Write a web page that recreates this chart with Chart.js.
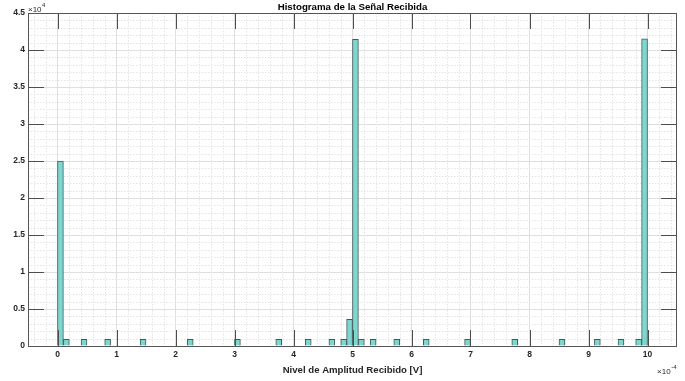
<!DOCTYPE html>
<html>
<head>
<meta charset="utf-8">
<script src="https://cdn.jsdelivr.net/npm/chart.js@4/dist/chart.umd.min.js"></script>
<style>
  html, body { margin: 0; padding: 0; background: #ffffff; }
  #wrap { width: 685px; height: 381px; position: relative; }
</style>
</head>
<body>
<div id="wrap"><canvas id="c" width="685" height="381"></canvas></div>
<script>
// ---- data (x in units of 1e-4 V, counts) ----
const chartTitle = "Histograma de la Señal Recibida";
const xLabel = "Nivel de Amplitud Recibido [V]";
const binCenters = [0.05, 0.15, 0.45, 0.85, 1.45, 2.25, 3.05, 3.75, 4.25, 4.65, 4.85, 4.95,
                    5.05, 5.15, 5.35, 5.75, 6.25, 6.95, 7.75, 8.55, 9.15, 9.55, 9.85, 9.95];
const counts = [25000, 900, 900, 900, 900, 900, 900, 900, 900, 900, 900, 3600,
                41450, 900, 900, 900, 900, 900, 900, 900, 900, 900, 900, 41500];
const xTickValues = [0, 1, 2, 3, 4, 5, 6, 7, 8, 9, 10];
const yTickValues = [0, 5000, 10000, 15000, 20000, 25000, 30000, 35000, 40000, 45000];
const xExponent = "-4";
const yExponent = "4";

const FONT = "'Liberation Sans', Arial, sans-serif";
const TICK_SIZE = 8.5;

const matlabAxes = {
  id: 'matlabAxes',
  beforeDatasetsDraw(chart) {
    const {ctx, chartArea: a, scales: {x, y}} = chart;
    ctx.save();
    ctx.strokeStyle = '#e4e4e4';
    ctx.lineWidth = 1;
    ctx.setLineDash([1.5, 1.5]);
    ctx.beginPath();
    for (let i = -2; i <= 52; i++) {
      if (i % 5 === 0) continue;
      const px = Math.round(x.getPixelForValue(i * 0.2)) + 0.5;
      if (px <= a.left || px >= a.right) continue;
      ctx.moveTo(px, a.top); ctx.lineTo(px, a.bottom);
    }
    for (let j = 1; j < 45; j++) {
      if (j % 5 === 0) continue;
      const py = Math.round(y.getPixelForValue(j * 1000)) + 0.5;
      ctx.moveTo(a.left, py); ctx.lineTo(a.right, py);
    }
    ctx.stroke();
    ctx.restore();
  },
  afterDraw(chart) {
    const {ctx, chartArea: a, scales: {x, y}} = chart;
    const TL = 16;
    ctx.save();
    ctx.strokeStyle = '#4d4d4d';
    ctx.lineWidth = 1;
    ctx.beginPath();
    xTickValues.forEach(v => {
      const px = Math.round(x.getPixelForValue(v)) + 0.5;
      ctx.moveTo(px, a.bottom); ctx.lineTo(px, a.bottom - TL);
      ctx.moveTo(px, a.top); ctx.lineTo(px, a.top + TL);
    });
    yTickValues.forEach(v => {
      const py = Math.round(y.getPixelForValue(v)) + 0.5;
      ctx.moveTo(a.left, py); ctx.lineTo(a.left + TL, py);
      ctx.moveTo(a.right, py); ctx.lineTo(a.right - TL, py);
    });
    ctx.stroke();
    ctx.strokeStyle = '#555555';
    ctx.strokeRect(Math.round(a.left) + 0.5, Math.round(a.top) + 0.5,
                   Math.round(a.right - a.left) - 1, Math.round(a.bottom - a.top));
    // title
    ctx.fillStyle = '#000000';
    ctx.font = 'bold 9.7px ' + FONT;
    ctx.textAlign = 'center';
    ctx.textBaseline = 'middle';
    ctx.fillText(chartTitle, (a.left + a.right) / 2, 7);
    // exponent labels
    ctx.fillStyle = '#262626';
    ctx.textAlign = 'left';
    ctx.textBaseline = 'alphabetic';
    ctx.font = '8px ' + FONT;
    let bx = a.left, by = 11.5;
    ctx.fillText('\u00d710', bx, by);
    let w = ctx.measureText('\u00d710').width;
    ctx.font = '6px ' + FONT;
    ctx.fillText(yExponent, bx + w + 0.5, by - 5);
    ctx.font = '8px ' + FONT;
    w = ctx.measureText('\u00d710').width;
    ctx.font = '6px ' + FONT;
    const ew = ctx.measureText(xExponent).width;
    bx = a.right - w - ew - 1; by = 373.5;
    ctx.font = '8px ' + FONT;
    ctx.fillText('\u00d710', bx, by);
    ctx.font = '6px ' + FONT;
    ctx.fillText(xExponent, bx + w + 0.5, by - 5);
    ctx.restore();
  }
};

new Chart(document.getElementById('c'), {
  type: 'bar',
  data: {
    datasets: [{
      data: binCenters.map((c, i) => ({x: c, y: counts[i]})),
      backgroundColor: '#7fd6d0',
      borderColor: '#3c5c5b',
      borderWidth: 1,
      barPercentage: 1,
      categoryPercentage: 1
    }]
  },
  options: {
    responsive: false,
    animation: false,
    devicePixelRatio: 1,
    layout: { padding: { left: 0, right: 8, top: 13, bottom: 0 } },
    plugins: { legend: { display: false }, tooltip: { enabled: false } },
    scales: {
      x: {
        type: 'linear',
        offset: false,
        min: -0.5, max: 10.5,
        afterBuildTicks: s => { s.ticks = xTickValues.map(v => ({value: v})); },
        afterFit: s => { s.height = 35; },
        grid: { color: '#dfdfdf', drawTicks: false, offset: false },
        border: { display: false },
        ticks: {
          padding: 4,
          color: '#262626',
          font: { family: FONT, size: TICK_SIZE, weight: 'bold' },
          maxRotation: 0,
          callback: v => String(v)
        },
        title: {
          display: true,
          text: xLabel,
          color: '#262626',
          font: { family: FONT, size: 9.6, weight: 'bold' },
          padding: { top: 2, bottom: 5 }
        }
      },
      y: {
        min: 0, max: 45000,
        afterBuildTicks: s => { s.ticks = yTickValues.map(v => ({value: v})); },
        afterFit: s => { s.width = 28; },
        grid: { color: '#dfdfdf', drawTicks: false },
        border: { display: false },
        ticks: {
          padding: 3,
          color: '#262626',
          font: { family: FONT, size: TICK_SIZE, weight: 'bold' },
          callback: v => String(v / 10000)
        }
      }
    }
  },
  plugins: [matlabAxes]
});
</script>
</body>
</html>
